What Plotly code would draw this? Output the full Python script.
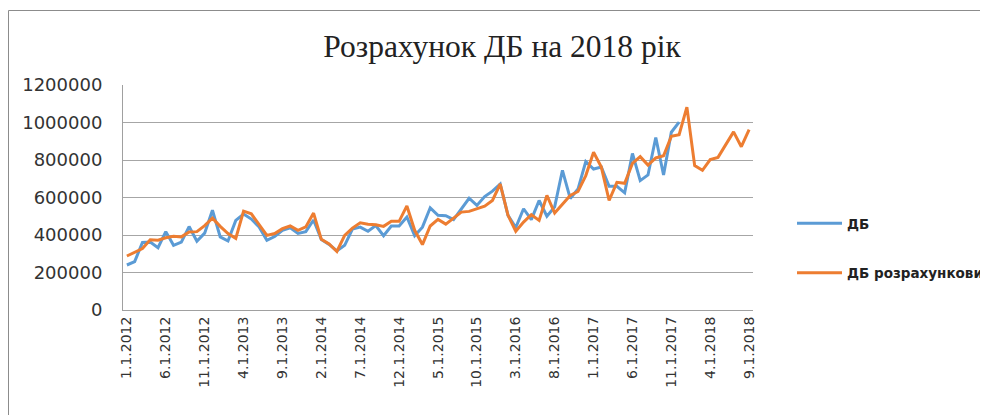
import plotly.graph_objects as go

# Monthly categories (month.day.year) from 1.1.2012 to 9.1.2018
years = [2012, 2013, 2014, 2015, 2016, 2017, 2018]
categories = [f"{m}.1.{y}" for y in years for m in range(1, 13)][:81]
tick_labels = categories[::5]

db_values = [
    240000, 258000, 360000, 362000, 332000, 418000, 345000, 362000, 445000, 367000,
    410000, 532000, 390000, 368000, 478000, 512000, 485000, 443000, 372000, 392000,
    425000, 438000, 408000, 418000, 480000, 376000, 350000, 315000, 345000, 432000,
    442000, 420000, 450000, 396000, 448000, 448000, 496000, 396000, 442000, 545000,
    505000, 503000, 482000, 540000, 596000, 558000, 605000, 634000, 672000, 505000,
    440000, 540000, 482000, 584000, 500000, 550000, 745000, 595000, 645000, 792000,
    752000, 762000, 660000, 660000, 625000, 835000, 690000, 720000, 920000, 720000,
    948000, 1002000,
]

db_calc_values = [
    288000, 310000, 328000, 375000, 372000, 385000, 393000, 390000, 416000, 418000,
    450000, 490000, 446000, 408000, 382000, 527000, 513000, 455000, 398000, 408000,
    434000, 448000, 425000, 443000, 517000, 377000, 352000, 312000, 398000, 437000,
    465000, 457000, 455000, 446000, 473000, 473000, 555000, 425000, 349000, 448000,
    483000, 458000, 490000, 522000, 526000, 540000, 554000, 584000, 672000, 505000,
    420000, 469000, 508000, 478000, 611000, 517000, 566000, 611000, 632000, 717000,
    841000, 762000, 584000, 681000, 676000, 782000, 818000, 773000, 811000, 823000,
    926000, 935000, 1082000, 770000, 745000, 802000, 814000, 885000, 950000, 871000,
    962000,
]

y_ticks = [0, 200000, 400000, 600000, 800000, 1000000, 1200000]

fig = go.Figure()
fig.add_trace(go.Scatter(
    x=categories[:len(db_values)], y=db_values, mode="lines", name="ДБ",
    line=dict(color="#5b9bd5", width=3), legendgroup="a",
))
fig.add_trace(go.Scatter(
    x=categories[:len(db_calc_values)], y=db_calc_values, mode="lines",
    name="ДБ розрахунковий", line=dict(color="#ed7d31", width=3), legendgroup="b",
))

# figure is offset by the page's 8px body margin
W, H = 988, 415
L, T = 115, 77
PLOT_R, PLOT_B = 745, 302
R, B = W - PLOT_R, H - PLOT_B
PW, PH = PLOT_R - L, PLOT_B - T

fig.update_layout(
    width=W, height=H,
    margin=dict(l=L, r=R, t=T, b=B, autoexpand=False),
    paper_bgcolor="white", plot_bgcolor="white",
    title=dict(text="Розрахунок ДБ на 2018 рік", x=494 / W, xref="container",
               xanchor="center", y=1 - 38 / H, yanchor="middle",
               font=dict(family="Liberation Serif", size=31.5, color="#222")),
    font=dict(family="DejaVu Sans", color="#333"),
    xaxis=dict(type="category", categoryorder="array", categoryarray=categories,
               range=[-0.5, len(categories) - 0.5],
               tickmode="array", tickvals=tick_labels, ticktext=tick_labels,
               tickangle=-90, tickfont=dict(size=14, family="DejaVu Sans", color="#333"),
               showgrid=False, showline=True, linecolor="#a0a0a0", linewidth=1,
               ticks="", zeroline=False),
    yaxis=dict(range=[0, 1200000], tickvals=y_ticks, ticktext=[str(v) for v in y_ticks],
               tickfont=dict(size=18, family="DejaVu Sans", color="#333"),
               showgrid=True, gridcolor="#a6a6a6", gridwidth=1,
               showline=True, linecolor="#a0a0a0", linewidth=1,
               ticks="", ticklabelstandoff=16, zeroline=False),
    legend=dict(x=(784 - L) / PW, xanchor="left", y=(PLOT_B - 200) / PH, yanchor="top",
                font=dict(size=13.5, family="DejaVu Sans", color="#222", weight="bold"),
                itemwidth=45, tracegroupgap=29, bgcolor="rgba(0,0,0,0)"),
    shapes=[dict(type="rect", xref="paper", yref="paper",
                 x0=(0.5 - L) / PW, x1=(W + 20 - L) / PW,
                 y0=(PLOT_B - 430) / PH, y1=(PLOT_B - 2.5) / PH,
                 line=dict(color="#8c8c8c", width=1), layer="below")],
)

fig.write_html("out.html")
